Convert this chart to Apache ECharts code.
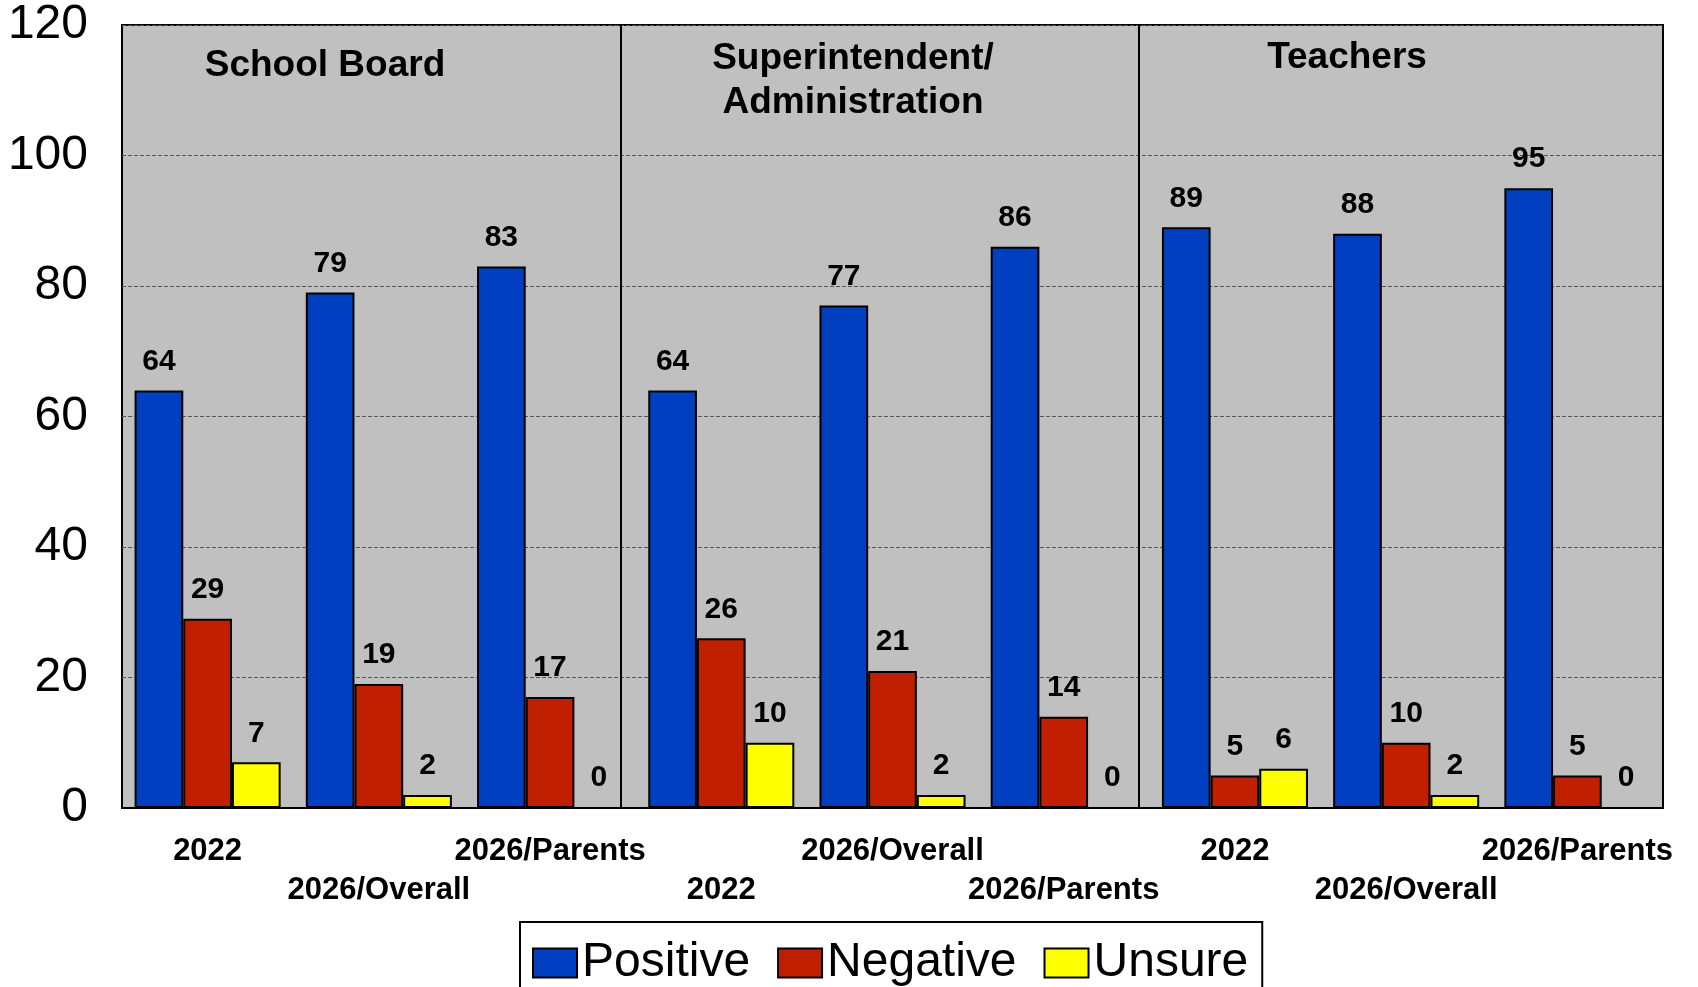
<!DOCTYPE html>
<html>
<head>
<meta charset="utf-8">
<script src="https://cdn.jsdelivr.net/npm/echarts@6/dist/echarts.min.js"></script>
<style>
html, body { margin: 0; padding: 0; background: #fff; }
#main { width: 1698px; height: 987px; }
</style>
</head>
<body>
<div id="main"></div>
<script>
var categories = ['2022', '2026/Overall', '2026/Parents', '2022', '2026/Overall', '2026/Parents', '2022', '2026/Overall', '2026/Parents'];
var positive = [64, 79, 83, 64, 77, 86, 89, 88, 95];
var negative = [29, 19, 17, 26, 21, 14, 5, 10, 5];
var unsure = [7, 2, 0, 10, 2, 0, 6, 2, 0];
var sectionTitles = ['School Board', 'Superintendent/\nAdministration', 'Teachers'];
var dividers = [2.91, 5.94]; // section separators, in category units
var yTicks = [0, 120, 20]; // min, max, interval

var FONT = 'Liberation Sans, Arial, sans-serif';
var dom = document.getElementById('main');
var myChart = echarts.init(dom, null, {renderer: 'canvas'});

function barSeries(name, data, color) {
    return {
        name: name,
        type: 'bar',
        data: data,
        barGap: '0%',
        barCategoryGap: '14.7%',
        itemStyle: {color: color, borderColor: '#000', borderWidth: 2},
        label: {
            show: true,
            position: 'top',
            distance: 14,
            color: '#000',
            fontFamily: FONT,
            fontWeight: 'bold',
            fontSize: 30
        }
    };
}

// titles of the three panels
var titlePos = [[325, 44], [853, 37], [1347, 36]];
var titles = sectionTitles.map(function (t, i) {
    return {
        text: t,
        left: titlePos[i][0],
        top: titlePos[i][1],
        textAlign: 'center',
        padding: 0,
        textStyle: {fontFamily: FONT, fontWeight: 'bold', fontSize: 37, lineHeight: 44, color: '#000'}
    };
});

option = {
    backgroundColor: '#fff',
    animation: false,
    title: titles,
    grid: {
        left: 122, right: 35, top: 25, bottom: 179,
        show: true,
        backgroundColor: '#C0C0C0',
        borderColor: '#000',
        borderWidth: 2
    },
    legend: {
        data: ['Positive', 'Negative', 'Unsure'],
        icon: 'rect',
        left: 520,
        top: 922,
        padding: [17, 14, 30, 12],
        borderColor: '#000',
        borderWidth: 2,
        backgroundColor: '#fff',
        itemWidth: 44,
        itemHeight: 29,
        itemGap: 27,
        textStyle: {fontFamily: FONT, fontSize: 48, color: '#000'}
    },
    xAxis: [{
        type: 'category',
        data: categories,
        axisLine: {lineStyle: {color: '#000', width: 2}},
        axisTick: {show: false},
        axisLabel: {
            interval: 0,
            margin: 24,
            color: '#000',
            fontFamily: FONT,
            fontWeight: 'bold',
            fontSize: 31,
            lineHeight: 39,
            formatter: function (v, i) { return i % 2 ? '\n' + v : v; }
        }
    }, {
        type: 'value',
        min: 0,
        max: categories.length,
        show: false
    }],
    yAxis: {
        type: 'value',
        min: yTicks[0],
        max: yTicks[1],
        interval: yTicks[2],
        axisLine: {show: false},
        axisTick: {show: false},
        axisLabel: {margin: 34, color: '#000', fontFamily: FONT, fontSize: 48},
        splitLine: {lineStyle: {color: '#555', width: 1, type: [4, 2]}}
    },
    series: [
        barSeries('Positive', positive, '#0040C0'),
        barSeries('Negative', negative, '#C02000'),
        barSeries('Unsure', unsure, '#FFFF00'),
        {
            type: 'scatter',
            xAxisIndex: 1,
            data: [],
            silent: true,
            markLine: {
                silent: true,
                symbol: 'none',
                label: {show: false},
                lineStyle: {color: '#000', width: 2, type: 'solid'},
                data: dividers.map(function (d) { return {xAxis: d}; })
            }
        }
    ]
};
myChart.setOption(option);
</script>
</body>
</html>
